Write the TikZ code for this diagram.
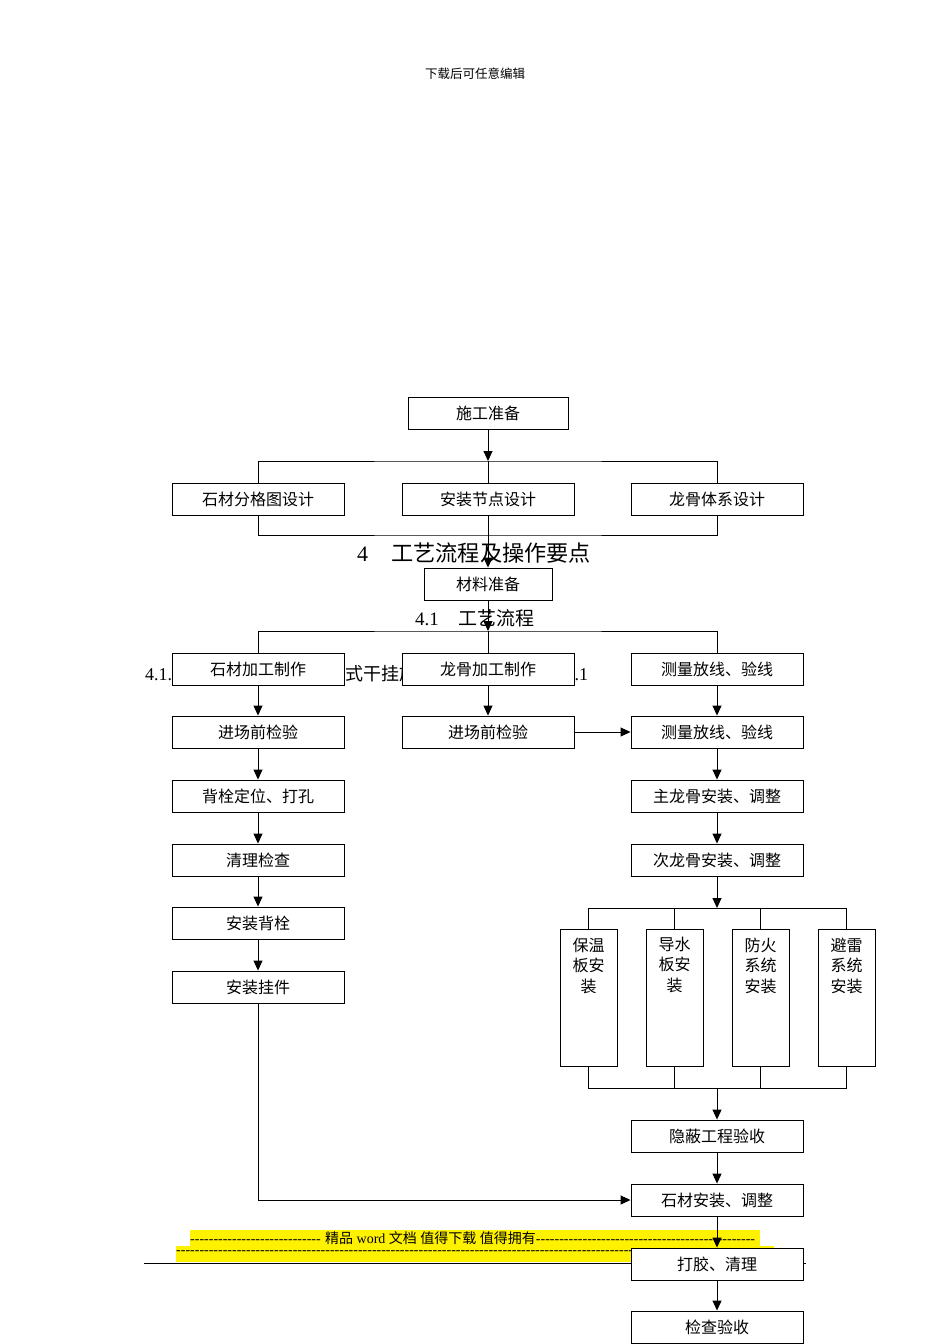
\documentclass[tikz,border=0pt]{standalone}
\usepackage{fontspec}
\setmainfont{Liberation Serif}
\newfontfamily\cjk{Noto Sans CJK SC}
\usetikzlibrary{arrows.meta}
\newcommand{\dashfill}[1]{\makebox[#1]{\leaders\hbox{-}\hfill}}
\begin{document}
\begin{tikzpicture}[x=1pt,y=-1pt,
  box/.style={draw, fill=white, line width=0.9pt, minimum width=172pt, minimum height=32pt, inner sep=0pt, font=\cjk\fontsize{16}{16}\selectfont},
  tall/.style={draw, fill=white, line width=0.9pt, minimum width=57pt, minimum height=137pt, inner sep=0pt},
  talltext/.style={inner sep=0pt, align=center, font=\cjk\fontsize{16}{20.5}\selectfont},
  ln/.style={line width=0.9pt},
  arr/.style={line width=0.9pt, -{Triangle[length=10pt,width=9pt]}},
  plain/.style={inner sep=0pt, anchor=west}
]
\useasboundingbox (0,0) rectangle (950,1344);
\fill[white] (0,0) rectangle (950,1344);

% page header
\node[inner sep=0pt, font=\cjk\fontsize{12.5}{12.5}\selectfont] (hdr) at (475,74) {下载后可任意编辑};

% footer band
\fill[yellow] (190,1230) rectangle (760,1246);
\fill[yellow] (176,1246) rectangle (774,1262);
\node[plain, font=\fontsize{14}{14}\selectfont] (ft1) at (190,1238)
  {\dashfill{135pt}{\cjk 精品}~word~{\cjk 文档}~{\cjk 值得下载}~{\cjk 值得拥有}\dashfill{220pt}};
\node[plain, font=\fontsize{14}{14}\selectfont] (ft2) at (176,1253) {\dashfill{598pt}};
\coordinate (ruleL) at (144,1263);
\coordinate (ruleR) at (806,1263);
\draw[line width=0.9pt] (ruleL) -- (ruleR);

% headings (partly hidden under the chart)
\node[plain] (h4) at (357,553) {\fontsize{22}{22}\selectfont 4\hspace{23pt}{\cjk\fontsize{22.2}{22.2}\selectfont 工艺流程及操作要点}};
\node[plain] (h41) at (415,618) {\fontsize{19}{19}\selectfont 4.1\hspace{20pt}{\cjk 工艺流程}};
\node[plain] (h411) at (145,674) {\fontsize{18}{18}\selectfont 4.1.1\hspace{56pt}{\cjk 石材幕墙背栓式干挂施工工艺流程见图}\hspace{9pt}4.1.1};

% nodes
\node[box, minimum width=160pt] (n1) at (488,413) {施工准备};
\node[box] (a1) at (258,499) {石材分格图设计};
\node[box] (a2) at (488,499) {安装节点设计};
\node[box] (a3) at (717,499) {龙骨体系设计};
\node[box, minimum width=128pt] (m1) at (488,584) {材料准备};
\node[box] (b1) at (258,669) {石材加工制作};
\node[box] (b2) at (488,669) {龙骨加工制作};
\node[box] (b3) at (717,669) {测量放线、验线};
\node[box] (c1) at (258,732) {进场前检验};
\node[box] (c2) at (488,732) {进场前检验};
\node[box] (c3) at (717,732) {测量放线、验线};
\node[box] (d1) at (258,796) {背栓定位、打孔};
\node[box] (e1) at (258,860) {清理检查};
\node[box] (f1) at (258,923) {安装背栓};
\node[box] (g1) at (258,987) {安装挂件};
\node[box] (d3) at (717,796) {主龙骨安装、调整};
\node[box] (e3) at (717,860) {次龙骨安装、调整};
\node[tall] (t1) at (588.5,997.5) {};
\node[tall] (t2) at (674.5,997.5) {};
\node[tall] (t3) at (760.5,997.5) {};
\node[tall] (t4) at (846.5,997.5) {};
\node[talltext, anchor=north] (t1x) at ([yshift=-9pt]t1.north) {保温\\板安\\装};
\node[talltext, anchor=north] (t2x) at ([yshift=-8pt]t2.north) {导水\\板安\\装};
\node[talltext, anchor=north] (t3x) at ([yshift=-9pt]t3.north) {防火\\系统\\安装};
\node[talltext, anchor=north] (t4x) at ([yshift=-9pt]t4.north) {避雷\\系统\\安装};
\node[box] (h) at (717,1136) {隐蔽工程验收};
\node[box] (i) at (717,1200) {石材安装、调整};
\node[box] (j) at (717,1264) {打胶、清理};
\node[box] (k) at (717,1327) {检查验收};

% buses
\coordinate (bus1) at (488,461);
\coordinate (bus2) at (488,535);
\coordinate (bus3) at (488,631);
\coordinate (bus4) at (717,908);
\coordinate (bus5) at (717,1088);

% connectors
\draw[arr] (n1) -- (bus1);
\draw[ln] (a1.north) |- (bus1) -| (a3.north);
\draw[ln] (bus1) -- (a2.north);
\draw[ln] (a1.south) |- (bus2) -| (a3.south);
\draw[ln] (a2.south) -- (bus2);
\draw[arr] (bus2) -- (m1.north);
\draw[arr] (m1) -- (bus3);
\draw[ln] (b1.north) |- (bus3) -| (b3.north);
\draw[ln] (bus3) -- (b2.north);
\draw[arr] (b1) -- (c1);
\draw[arr] (b2) -- (c2);
\draw[arr] (b3) -- (c3);
\draw[arr] (c2) -- (c3);
\draw[arr] (c1) -- (d1);
\draw[arr] (d1) -- (e1);
\draw[arr] (e1) -- (f1);
\draw[arr] (f1) -- (g1);
\draw[arr] (c3) -- (d3);
\draw[arr] (d3) -- (e3);
\draw[arr] (e3) -- (bus4);
\draw[ln] (t1.north) |- (bus4) -| (t4.north);
\draw[ln] (t2.north) -- (t2.north |- bus4);
\draw[ln] (t3.north) -- (t3.north |- bus4);
\draw[ln] (t1.south) |- (bus5) -| (t4.south);
\draw[ln] (t2.south) -- (t2.south |- bus5);
\draw[ln] (t3.south) -- (t3.south |- bus5);
\draw[arr] (bus5) -- (h.north);
\draw[arr] (h) -- (i);
\draw[arr] (g1.south) |- (i.west);
\draw[arr] (i) -- (j);
\draw[arr] (j) -- (k);
\end{tikzpicture}
\end{document}
